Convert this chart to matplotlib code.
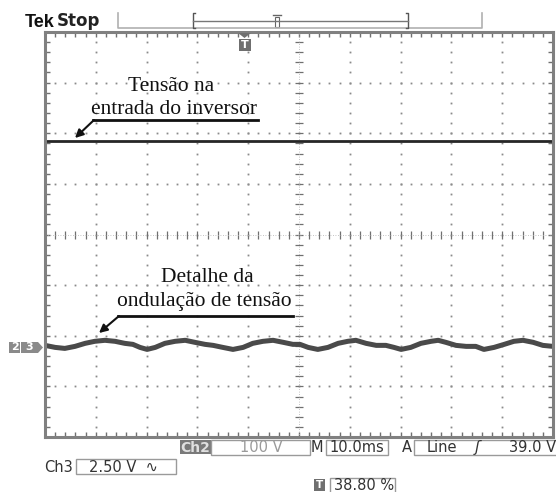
import numpy as np
import matplotlib
matplotlib.use("Agg")
import matplotlib.pyplot as plt
from matplotlib.patches import Rectangle, Polygon

# Scope settings
ch2_volts_per_div = 100.0
ch3_volts_per_div = 2.5
ms_per_div = 10.0
ground_div = -2.23          # ground marker of channels 2 and 3

# Ch2: DC voltage at the inverter input (flat)
ch2_level_v = 407.0

# Ch3: ripple detail (AC coupled)
time_ms = [0, 2.0, 3.9, 5.9, 7.9, 9.8, 11.8, 13.8, 15.7, 17.3, 18.7, 20.1, 21.7,
           23.6, 25.6, 27.6, 29.5, 31.5, 33.1, 35.0, 37.0, 39.0, 40.9, 42.9,
           44.9, 46.9, 48.8, 50.2, 51.8, 53.7, 55.7, 57.7, 59.6, 61.2, 63.2,
           65.2, 67.1, 68.7, 70.1, 72.0, 74.0, 76.0, 77.4, 78.9, 80.9, 82.9,
           84.8, 86.4, 88.4, 90.4, 92.3, 94.1, 96.1, 98.0, 100.0]
ch3_ripple_v = [0.10, 0.00, -0.05, 0.05, 0.20, 0.30, 0.35, 0.30, 0.20, 0.15,
                0.00, -0.10, 0.00, 0.20, 0.30, 0.35, 0.25, 0.15, 0.10, 0.00,
                -0.10, 0.00, 0.20, 0.30, 0.35, 0.25, 0.15, 0.15, 0.00, -0.10,
                0.00, 0.20, 0.30, 0.35, 0.20, 0.10, 0.10, 0.00, -0.10, 0.00,
                0.20, 0.30, 0.35, 0.25, 0.10, 0.05, 0.05, -0.10, 0.00, 0.15,
                0.30, 0.35, 0.25, 0.10, 0.05]

W, H = 556, 492
fig = plt.figure(figsize=(W / 100, H / 100), dpi=100)

# screen axes, in divisions
L, R, T, B = 45, 553, 32, 437
ax = fig.add_axes([L / W, (H - B) / H, (R - L) / W, (B - T) / H])
ax.set_xlim(0, 10)
ax.set_ylim(-4, 4)
ax.set_facecolor("white")
for s in ax.spines.values():
    s.set_color("#808080")
    s.set_linewidth(2.2)
ax.set_xticks(np.arange(0, 11, 1))
ax.set_yticks(np.arange(-4, 5, 1))
ax.set_xticks(np.arange(0, 10.01, 0.2), minor=True)
ax.set_yticks(np.arange(-4, 4.01, 0.2), minor=True)
ax.tick_params(which="both", direction="in", top=True, right=True,
               labelbottom=False, labelleft=False, length=3.5,
               width=1, color="#707070")

# graticule dots
fine = np.arange(0, 10.01, 0.2)
fine_y = np.arange(-4, 4.01, 0.2)
for gx in range(1, 10):
    if gx == 5:
        continue
    ax.plot(np.full_like(fine_y, gx), fine_y, ls="none", marker="s",
            ms=1.3, color="#8a8a8a", mew=0)
for gy in range(-3, 4):
    if gy == 0:
        continue
    ax.plot(fine, np.full_like(fine, gy), ls="none", marker="s",
            ms=1.3, color="#8a8a8a", mew=0)
# center cross with ticks
ax.plot(fine, np.zeros_like(fine), ls="none", marker="|", ms=6,
        color="#707070", mew=0.9)
ax.plot(np.full_like(fine_y, 5), fine_y, ls="none", marker="_", ms=6,
        color="#707070", mew=0.9)
ax.axhline(0, color="#b0b0b0", lw=0.6, ls=(0, (1, 2)))
ax.axvline(5, color="#b0b0b0", lw=0.6, ls=(0, (1, 2)))

# traces
t_div = np.array(time_ms) / ms_per_div
ax.axhline(ch2_level_v / ch2_volts_per_div + ground_div, color="#262626", lw=2.0)
ax.plot(t_div, np.array(ch3_ripple_v) / ch3_volts_per_div + ground_div,
        color="#4a4a4a", lw=3.6, solid_joinstyle="round")

# overlay in pixel coordinates for the scope chrome and notes
ov = fig.add_axes([0, 0, 1, 1])
ov.set_zorder(10)
ov.set_xlim(0, W)
ov.set_ylim(H, 0)
ov.axis("off")

# annotations
serif = "Liberation Serif"
ov.text(171, 91, "Tensão na", family=serif, fontsize=15.5, ha="center",
        va="baseline", color="#111111")
ov.text(174, 114, "entrada do inversor", family=serif, fontsize=15.5,
        ha="center", va="baseline", color="#111111")
ov.plot([93, 258], [120, 120], color="#111111", lw=2)
ov.annotate("", xy=(75, 138), xytext=(94, 120),
            arrowprops=dict(arrowstyle="-|>", color="#111111", lw=1.5,
                            mutation_scale=12, shrinkA=0, shrinkB=0))
ov.text(207, 282, "Detalhe da", family=serif, fontsize=15.5, ha="center",
        va="baseline", color="#111111")
ov.text(204, 306, "ondulação de tensão", family=serif, fontsize=15.5,
        ha="center", va="baseline", color="#111111")
ov.plot([118, 293], [316, 316], color="#111111", lw=2)
ov.annotate("", xy=(99, 333), xytext=(119, 316),
            arrowprops=dict(arrowstyle="-|>", color="#111111", lw=1.5,
                            mutation_scale=12, shrinkA=0, shrinkB=0))

# header
ov.text(25, 27, "Tek", family="Liberation Sans", weight="bold", fontsize=13,
        va="baseline", color="#111111")
ov.text(57, 26, "Stop", family="DejaVu Sans", weight="semibold", fontsize=12,
        va="baseline", color="#222222")
ov.plot([118, 118, 482, 482], [13, 28, 28, 13], color="#b0b0b0", lw=1.2)
ov.plot([195, 193, 193, 195], [13, 13, 28, 28], color="#555555", lw=1)
ov.plot([406, 408, 408, 406], [13, 13, 28, 28], color="#555555", lw=1)
ov.plot([193, 408], [21, 21], color="#777777", lw=1)
ov.add_patch(Rectangle((275, 17), 4, 10, fc="white", ec="#666666", lw=0.8))
ov.plot([273, 281], [15, 15], color="#666666", lw=1)

# trigger position marker
ov.add_patch(Polygon([[238, 33], [251, 33], [244.5, 38]], closed=True,
                     fc="#707070", ec="none"))
ov.add_patch(Rectangle((238.5, 39), 12, 12, fc="#6f6f6f", ec="none"))
ov.text(244.5, 45.5, "T", family="DejaVu Sans", weight="bold", fontsize=8,
        ha="center", va="center", color="white")

# ground markers 2 and 3
ov.add_patch(Rectangle((9, 342), 11, 11, fc="#8a8a8a", ec="none"))
ov.text(14.5, 347.5, "2", family="DejaVu Sans", weight="bold", fontsize=8,
        ha="center", va="center", color="white")
ov.add_patch(Polygon([[21, 342], [38, 342], [43, 347.5], [38, 353], [21, 353]],
                     closed=True, fc="#8a8a8a", ec="none"))
ov.text(29.5, 347.5, "3", family="DejaVu Sans", weight="bold", fontsize=8,
        ha="center", va="center", color="white")

# bottom readouts
def box(x0, y0, x1, y1):
    ov.add_patch(Rectangle((x0, y0), x1 - x0, y1 - y0, fc="white",
                           ec="#9a9a9a", lw=1))

sans = "DejaVu Sans"
ov.add_patch(Rectangle((180, 440), 31, 14, fc="#7a7a7a", ec="none"))
ov.text(195.5, 447.5, "Ch2", family=sans, weight="bold", fontsize=10,
        ha="center", va="center", color="#e0e0e0")
box(211, 440, 310, 455)
ov.text(240, 447.5, "100 V", family=sans, fontsize=10.5, ha="left",
        va="center", color="#9a9a9a")
ov.text(317, 447.5, "M", family=sans, fontsize=10.5, ha="center",
        va="center", color="#333333")
box(326, 440, 388, 455)
ov.text(329, 447.5, "10.0ms", family=sans, fontsize=10.5, ha="left",
        va="center", color="#333333")
ov.text(407, 447.5, "A", family=sans, fontsize=10.5, ha="center",
        va="center", color="#333333")
box(414, 440, 560, 455)
ov.text(427, 447.5, "Line", family=sans, fontsize=10.5, ha="left",
        va="center", color="#333333")
ov.text(477, 447.5, "ʃ", family=sans, fontsize=11, ha="center",
        va="center", color="#333333", style="italic")
ov.text(556, 447.5, "39.0 V", family=sans, fontsize=10.5, ha="right",
        va="center", color="#333333")

ov.text(44, 467, "Ch3", family=sans, fontsize=10.5, ha="left",
        va="center", color="#333333")
box(76, 459, 176, 474)
ov.text(89, 467, "2.50 V  ∿", family=sans, fontsize=10.5, ha="left",
        va="center", color="#333333")

ov.add_patch(Rectangle((314, 479), 11, 12, fc="#6f6f6f", ec="none"))
ov.text(319.5, 485, "T", family=sans, weight="bold", fontsize=7.5,
        ha="center", va="center", color="white")
box(330, 478, 395, 494)
ov.text(334, 486, "38.80 %", family=sans, fontsize=10.5, ha="left",
        va="center", color="#333333")

fig.savefig("out.png", dpi=100)
